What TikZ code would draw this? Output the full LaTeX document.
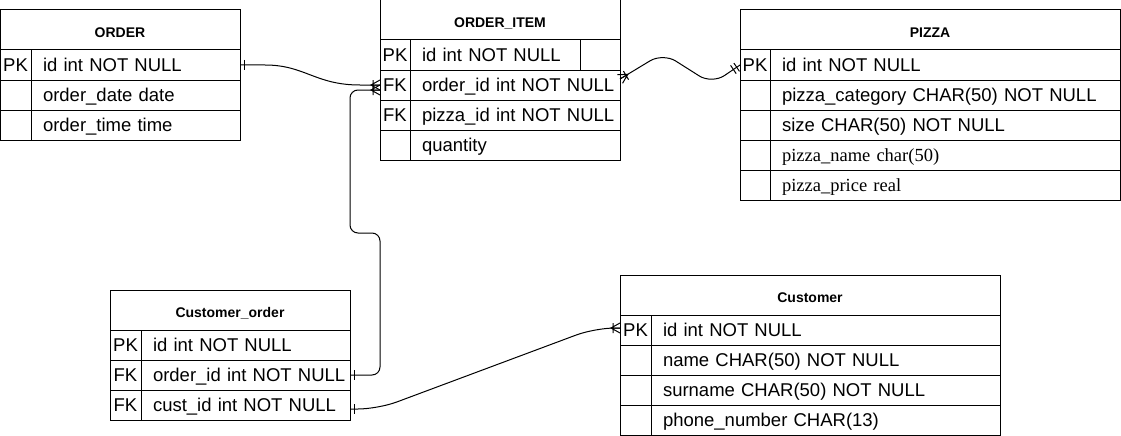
\documentclass[tikz,border=0pt]{standalone}
\usepackage{fontspec}
\setmainfont{Liberation Sans}
\newfontfamily\timesfont{Liberation Serif}
\usetikzlibrary{positioning,calc}

\tikzset{
  tbl/.style={draw,line width=1pt,inner sep=0pt,outer sep=0pt},
  head/.style={tbl,minimum height=40,font=\fontsize{14}{16}\selectfont\bfseries,text height=14.6pt,text depth=0pt},
  keycell/.style={tbl,minimum width=#1,minimum height=30,font=\fontsize{18.5}{22}\selectfont,text height=13.3pt,text depth=0.6pt},
  field/.style={tbl,text width=#1,minimum height=30,align=left,font=\fontsize{18.5}{22}\selectfont,text height=13.3pt,text depth=0.6pt,execute at begin node={\hspace*{12pt}}},
  link/.style={line width=1pt},
  onebar/.pic={\draw[link] (4,-5) -- (4,5);},
  twobar/.pic={\draw[link] (4,-5) -- (4,5) (8,-5) -- (8,5);},
  crowbar/.pic={\draw[link] (0,-5) -- (9,0) -- (0,5) (0,0) -- (9,0) (7,-5) -- (7,5);}
}

\begin{document}
\begin{tikzpicture}[x=1pt,y=-1pt]
\useasboundingbox (0,0) rectangle (1121,436);

% ORDER
\node[head,minimum width=240,anchor=north west] (order) at (0,10) {ORDER};
\node[keycell=31,anchor=north west] (order-k1) at (order.south west) {PK};
\node[field=209,right=0pt of order-k1] (order-f1) {id int NOT NULL};
\node[keycell=31,below=0pt of order-k1] (order-k2) {};
\node[field=209,right=0pt of order-k2] (order-f2) {order\_date date};
\node[keycell=31,below=0pt of order-k2] (order-k3) {};
\node[field=209,right=0pt of order-k3] (order-f3) {order\_time time};

% ORDER_ITEM
\node[head,minimum width=240,anchor=north west] (item) at (380,0) {ORDER\_ITEM};
\node[keycell=30,anchor=north west] (item-k1) at (item.south west) {PK};
\node[field=210,right=0pt of item-k1] (item-f1) {id int NOT NULL};
\node[keycell=30,below=0pt of item-k1] (item-k2) {FK};
\node[field=210,right=0pt of item-k2] (item-f2) {order\_id int NOT NULL};
\node[keycell=30,below=0pt of item-k2] (item-k3) {FK};
\node[field=210,right=0pt of item-k3] (item-f3) {pizza\_id int NOT NULL};
\node[keycell=30,below=0pt of item-k3] (item-k4) {};
\node[field=210,right=0pt of item-k4] (item-f4) {quantity};
\draw[link] ($(item-f1.north east)+(-40,0)$) -- ($(item-f1.south east)+(-40,0)$);

% PIZZA
\node[head,minimum width=380,anchor=north west] (pizza) at (740,10) {PIZZA};
\node[keycell=30,anchor=north west] (pizza-k1) at (pizza.south west) {PK};
\node[field=350,right=0pt of pizza-k1] (pizza-f1) {id int NOT NULL};
\node[keycell=30,below=0pt of pizza-k1] (pizza-k2) {};
\node[field=350,right=0pt of pizza-k2] (pizza-f2) {pizza\_category CHAR(50) NOT NULL};
\node[keycell=30,below=0pt of pizza-k2] (pizza-k3) {};
\node[field=350,right=0pt of pizza-k3] (pizza-f3) {size CHAR(50) NOT NULL};
\node[keycell=30,below=0pt of pizza-k3] (pizza-k4) {};
\node[field=350,right=0pt of pizza-k4] (pizza-f4) {\timesfont pizza\_name char(50)};
\node[keycell=30,below=0pt of pizza-k4] (pizza-k5) {};
\node[field=350,right=0pt of pizza-k5] (pizza-f5) {\timesfont pizza\_price real};

% Customer_order
\node[head,minimum width=240,anchor=north west] (custord) at (110,290) {Customer\_order};
\node[keycell=31,anchor=north west] (custord-k1) at (custord.south west) {PK};
\node[field=209,right=0pt of custord-k1] (custord-f1) {id int NOT NULL};
\node[keycell=31,below=0pt of custord-k1] (custord-k2) {FK};
\node[field=209,right=0pt of custord-k2] (custord-f2) {order\_id int NOT NULL};
\node[keycell=31,below=0pt of custord-k2] (custord-k3) {FK};
\node[field=209,right=0pt of custord-k3] (custord-f3) {cust\_id int NOT NULL};

% Customer
\node[head,minimum width=380,anchor=north west] (cust) at (620,275) {Customer};
\node[keycell=31,anchor=north west] (cust-k1) at (cust.south west) {PK};
\node[field=349,right=0pt of cust-k1] (cust-f1) {id int NOT NULL};
\node[keycell=31,below=0pt of cust-k1] (cust-k2) {};
\node[field=349,right=0pt of cust-k2] (cust-f2) {name CHAR(50) NOT NULL};
\node[keycell=31,below=0pt of cust-k2] (cust-k3) {};
\node[field=349,right=0pt of cust-k3] (cust-f3) {surname CHAR(50) NOT NULL};
\node[keycell=31,below=0pt of cust-k3] (cust-k4) {};
\node[field=349,right=0pt of cust-k4] (cust-f4) {phone\_number CHAR(13)};

% relations
\draw[link] (order-f1.east) -- ++(25,0) .. controls +(40,0) and +(-45,0) .. ($(item-k2.west)+(-20,0)$) -- (item-k2.west);
\pic at (order-f1.east) {onebar};
\pic[rotate=180] at (item-k2.west) {crowbar};

\draw[link,rounded corners=8] (custord-f2.east) -| ($(item-k2.west)+(0,148)$) -| ($(item-k2.west)+(-30,5)$) -- ($(item-k2.west)+(0,5)$);
\pic at (custord-f2.east) {onebar};
\pic[rotate=180] at ($(item-k2.west)+(0,5)$) {crowbar};

\draw[link,rounded corners=15] ($(item-f2.east)+(0,-6)$) -- ($(item-f2.east)+(43,-32)$) -- ($(item-f2.east)+(92,-1)$) -- (pizza-k1.west);
\pic[rotate=31] at ($(item-f2.east)+(0,-6)$) {crowbar};
\pic[rotate=214] at (pizza-k1.west) {twobar};

\draw[link,rounded corners=20] ($(custord-f3.east)+(0,4)$) -- ++(28,0) -- ($(cust-k1.west)+(-25,-2)$) -- ($(cust-k1.west)+(0,-2)$);
\pic at ($(custord-f3.east)+(0,4)$) {onebar};
\pic[rotate=180] at ($(cust-k1.west)+(0,-2)$) {crowbar};
\end{tikzpicture}
\end{document}
